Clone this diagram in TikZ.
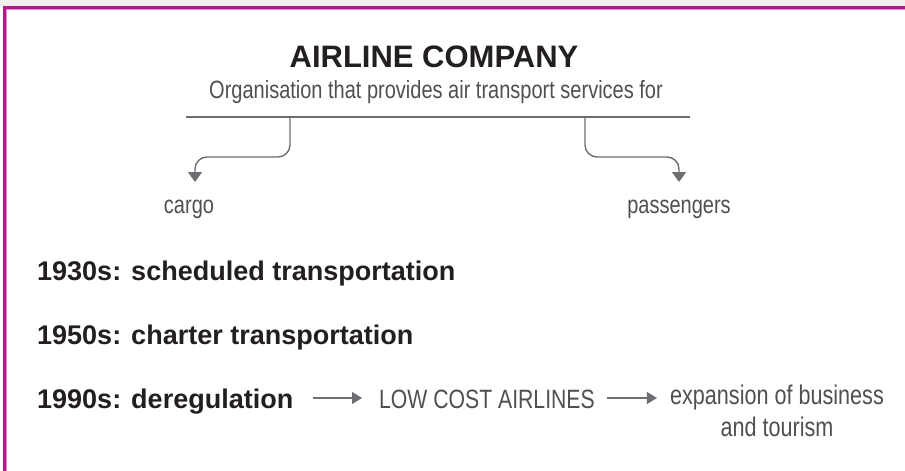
\documentclass[tikz,border=0pt]{standalone}
\usepackage{fontspec}
\setmainfont{Liberation Sans}
\newfontfamily\condfont[FakeStretch=0.8]{Liberation Sans}
\usetikzlibrary{arrows.meta}
\definecolor{framemag}{HTML}{B31B8C}
\definecolor{framelight}{HTML}{E48BC6}
\definecolor{ink}{HTML}{231F20}
\definecolor{softink}{HTML}{505052}
\definecolor{rulegray}{HTML}{6D6E71}
\definecolor{band}{HTML}{F1F0ED}
\begin{document}
\begin{tikzpicture}[x=1pt,y=-1pt,
  heading/.style={font=\bfseries\fontsize{31}{36}\selectfont, text=ink, inner sep=0pt, anchor=base},
  era/.style={font=\bfseries\fontsize{27}{32}\selectfont, text=ink, inner sep=0pt, anchor=base west},
  plain/.style={font=\condfont\fontsize{25}{32}\selectfont, text=softink, inner sep=0pt},
  branch/.style={draw=rulegray, line width=1.4pt, rounded corners=12pt, -{Triangle[width=14pt,length=10pt]}},
  flow/.style={draw=rulegray, line width=1.1pt, -{Triangle[width=12pt,length=10pt]}}]
\useasboundingbox (0,0) rectangle (905,471);
% page background and frame
\fill[band] (0,0) rectangle (905,7);
\fill[white] (0,7) rectangle (905,471);
\fill[framemag] (3,6) rectangle (905,9);
\fill[framemag] (3,6) rectangle (6,471);
\fill[framelight] (6,9) rectangle (905,10);
\fill[framelight] (6,9) rectangle (7,471);

% heading and definition
\node[heading] (title) at (434,67) {AIRLINE COMPANY};
\node[plain, anchor=base] (sub) at (436,98) {Organisation that provides air transport services for};
\coordinate (barL) at (186,117);
\coordinate (barR) at (690,117);
\draw[rulegray, line width=1.6pt] (barL) -- (barR);

% the two kinds of service
\node[plain, anchor=base] (cargo) at (189,213) {cargo};
\node[plain, anchor=base] (pass) at (679,213) {passengers};
\coordinate (jL) at (290,117);
\coordinate (jR) at (585,117);
\draw[branch] (jL) -- ++(0,40) -| ([xshift=6pt,yshift=31pt]cargo.base);
\draw[branch] (jR) -- ++(0,40) -| ([yshift=31pt]pass.base);

% timeline
\node[era] (e30) at (37,280) {1930s: scheduled transportation};
\node[era] (e50) at (37,344) {1950s: charter transportation};
\node[era] (e90) at (37,408) {1990s: deregulation};
\node[plain, font=\condfont\fontsize{26.5}{32}\selectfont, anchor=base west] (low) at (379,408) {LOW COST AIRLINES};
\node[plain, font=\condfont\fontsize{27}{32}\selectfont, align=center, anchor=north] (exp) at (777,385) {expansion of business\\and tourism};
\draw[flow] ([xshift=20pt,yshift=10pt]e90.base east) -- ([xshift=-17pt,yshift=10pt]low.base west);
\draw[flow] ([xshift=12pt,yshift=10pt]low.base east) -- ([xshift=-13pt,yshift=10pt]low.base east -| exp.west);
\end{tikzpicture}
\end{document}
